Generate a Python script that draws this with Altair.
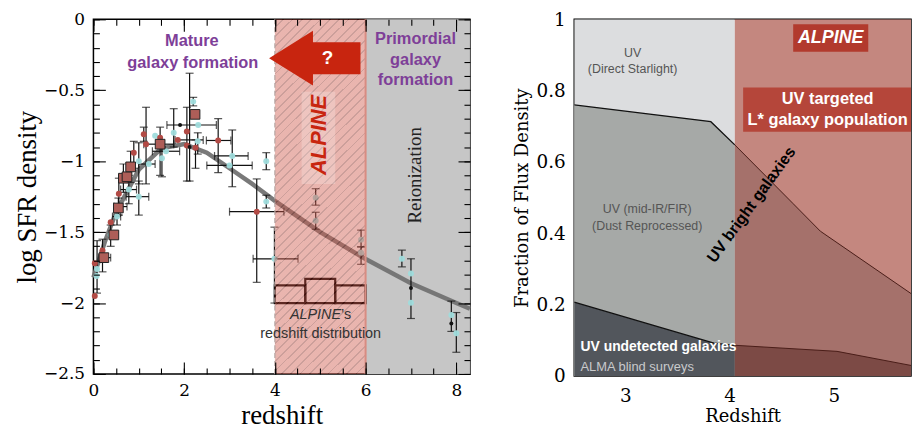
import altair as alt
import pandas as pd

N = None
# ================= LEFT PANEL DATA (log SFR density vs redshift) =================
pt_z = [0.03, 0.08, 0.03, 0.07, 0.20, 0.23, 0.38, 0.38, 0.45, 0.52,
        0.55, 0.56, 0.55, 0.66, 0.74, 0.82, 0.89, 0.78, 1.00, 1.00,
        1.11, 1.16, 1.22, 1.36, 1.47, 1.47, 1.51, 1.60, 1.77, 1.86,
        1.91, 2.06, 2.06, 2.12, 2.25, 2.24, 2.20, 2.31, 2.30, 2.75,
        3.06, 3.00, 3.81, 3.81, 3.60, 3.99, 4.90, 4.90, 5.90, 5.90,
        6.80, 7.00, 7.00, 7.00, 7.89, 7.89, 8.00]
pt_sfr = [-1.95, -1.76, -1.72, -1.81, -1.63, -1.68, -1.52, -1.43, -1.52, -1.39,
          -1.33, -1.23, -1.32, -1.12, -1.11, -1.04, -0.94, -1.20, -1.25, -1.00,
          -0.81, -0.88, -1.02, -0.82, -0.88, -0.835, -0.98, -0.93, -0.80, -0.85,
          -0.745, -0.79, -0.89, -0.90, -0.905, -0.67, -0.58, -0.745, -0.86, -0.854,
          -0.963, -1.03, -1.00, -1.285, -1.356, -1.688, -1.257, -1.42, -1.553, -1.646,
          -1.688, -1.894, -1.792, -1.998, -2.085, -2.144, -2.213]
pt_zlo = [N, N, N, N, N, 0.12, N, N, N, 0.42,
          N, N, 0.45, N, N, N, N, 0.60, 0.72, N,
          N, N, 1.00, N, 1.11, N, N, 1.30, N, 1.80,
          1.62, N, N, N, N, N, N, N, N, 2.49,
          2.67, 2.50, N, N, 3.00, 3.52, N, N, N, N,
          N, N, N, N, N, N, N]
pt_zhi = [N, N, N, N, N, 0.38, N, N, N, 0.60,
          N, N, 0.74, N, N, N, N, 0.95, 1.22, N,
          N, N, 1.36, N, 1.77, N, N, 1.90, N, 2.42,
          2.71, N, N, N, N, N, N, N, N, 3.03,
          3.41, 3.50, N, N, 4.20, 4.51, N, N, N, N,
          N, N, N, N, N, N, N]
pt_ytop = [N, -1.56, N, N, -1.55, N, -1.45, N, N, -1.33,
           N, -1.12, -1.26, -1.02, N, -0.93, -0.86, -1.10, -1.14, -0.87,
           -0.76, -0.62, N, N, -0.76, N, -0.90, N, -0.63, N,
           N, -0.62, N, -0.38, -0.85, N, -0.55, N, -0.80, -0.70,
           -0.78, N, -0.94, -1.24, -1.125, -1.465, -1.194, -1.36, -1.486, -1.604,
           -1.627, -1.688, N, N, -1.986, N, -2.067]
pt_ybot = [N, -1.93, N, N, -1.78, N, -1.60, N, N, -1.45,
           N, -1.38, -1.38, -1.22, N, -1.15, -1.05, -1.30, -1.38, -1.16,
           -0.86, -1.16, N, N, -1.10, N, -1.11, N, -0.90, N,
           N, -1.14, N, -1.14, -1.05, N, -0.61, N, -0.95, -1.08,
           -1.18, N, -1.06, -1.33, -1.854, -2.00, -1.31, -1.48, -1.604, -1.727,
           -1.745, -2.109, N, N, -2.20, N, -2.347]
pt_kind = ['red', 'cyan', 'red', 'cyan', 'red', 'sq', 'cyan', 'red', 'sq', 'cyan',
           'sq', 'red', 'blk', 'sq', 'sq', 'sq', 'red', 'cyan', 'cyan', 'cyan',
           'red', 'red', 'cyan', 'cyan', 'sq', 'red', 'cyan', 'cyan', 'cyan', 'red',
           'blk', 'red', 'red', 'blk', 'red', 'sq', 'cyan', 'cyan', 'cyan', 'red',
           'cyan', 'cyan', 'cyan', 'cyan', 'red', 'cyan', 'cyan', 'cyan', 'cyan', 'cyan',
           'cyan', 'blk', 'cyan', 'cyan', 'cyan', 'blk', 'cyan']

curve_z = [0.0, 0.25, 0.5, 1.0, 1.5, 2.0, 2.5, 3.0, 3.5, 4.0, 5.0, 6.0, 7.0, 8.0, 8.3]
curve_sfr = [-1.82, -1.57, -1.36, -1.06, -0.91, -0.88, -0.94, -1.05, -1.16, -1.28,
             -1.50, -1.69, -1.86, -2.00, -2.04]

hist_lo = [4.0, 4.67, 5.33]
hist_hi = [4.67, 5.33, 6.0]
hist_top = [-1.875, -1.83, -1.875]
hist_base = [-2.0, -2.0, -2.0]

alpine_band = [4.0, 6.0]
reion_band = [6.0, 8.3]

# ================= RIGHT PANEL DATA (fraction of flux density) =================
uv_z = [2.51, 3.82, 4.05, 4.61, 4.87, 5.82]
uv_f = [0.76, 0.713, 0.648, 0.483, 0.406, 0.215]
und_z = [2.51, 3.85, 4.05, 5.03, 5.82]
und_f = [0.207, 0.092, 0.086, 0.069, 0.025]
alpine_zmin = 4.05

# ================= STYLE =================
serif = "DejaVu Serif"
times = "Liberation Serif"
sans = "Liberation Sans"
purple = "#7e3f98"
alpine_red = "#c8250f"

W_L, H_L = 379, 357
W_R, H_R = 339, 359

xs_L = alt.Scale(domain=[0, 8.3], nice=False, zero=False)
ys_L = alt.Scale(domain=[-2.5, 0], nice=False, zero=False)
xs_R = alt.Scale(domain=[2.51, 5.74], nice=False, zero=False)
ys_R = alt.Scale(domain=[0, 1], nice=False, zero=False)


def tick_axis(orient, values, size, **kw):
    d = dict(orient=orient, values=values, tickSize=size, offset=-size, domain=False,
             grid=False, tickColor="black", tickWidth=1.1, zindex=1)
    d.update(kw)
    if not d.get("labels", False):
        d["labels"] = False
        d["title"] = None
        d["minExtent"] = 0
        d["maxExtent"] = 0
    return alt.Axis(**d)


xmaj = [0, 2, 4, 6, 8]
xmin = [i * 0.5 for i in range(17)]
ymaj = [-2.5, -2, -1.5, -1, -0.5, 0]
ymin = [round(-2.5 + 0.1 * i, 1) for i in range(26)]

ax_b_major = tick_axis("bottom", xmaj, 12, labels=True, format="~g", labelFont=serif,
                       labelFontSize=17, labelColor="black", labelPadding=9, labelFlush=False,
                       title="redshift", titleFont=times, titleFontSize=27,
                       titleFontWeight="normal", titleColor="black", titlePadding=4)
ax_l_major = tick_axis("left", ymaj, 12, labels=True, format="~g", labelFont=serif,
                       labelFontSize=17, labelColor="black", labelPadding=9, labelFlush=False,
                       title="log SFR density", titleFont=times, titleFontSize=27,
                       titleFontWeight="normal", titleColor="black", titlePadding=2)
ax_b_minor = tick_axis("bottom", xmin, 6)
ax_l_minor = tick_axis("left", ymin, 6)
ax_t_major = tick_axis("top", xmaj, 12)
ax_r_major = tick_axis("right", ymaj, 12)
ax_t_minor = tick_axis("top", xmin, 6)
ax_r_minor = tick_axis("right", ymin, 6)


def XL(f, axis=None):
    return alt.X(f, type="quantitative", scale=xs_L, axis=axis)


def YL(f, axis=None):
    return alt.Y(f, type="quantitative", scale=ys_L, axis=axis)


df_pts = pd.DataFrame(dict(z=pt_z, sfr=pt_sfr, zlo=pt_zlo, zhi=pt_zhi,
                           ytop=pt_ytop, ybot=pt_ybot, kind=pt_kind))
df_curve = pd.DataFrame(dict(z=curve_z, sfr=curve_sfr))
df_hist = pd.DataFrame(dict(lo=hist_lo, hi=hist_hi, top=hist_top, base=hist_base))
df_reion = pd.DataFrame(dict(x0=[reion_band[0]], x1=[reion_band[1]], y0=[-2.5], y1=[0.0]))
df_alp = pd.DataFrame(dict(x0=[alpine_band[0]], x1=[alpine_band[1]]))

base = alt.Chart(df_pts)

gray = alt.Chart(df_reion).mark_rect(color="#c6c6c6").encode(
    x=XL("x0", ax_b_major), x2="x1", y=YL("y0", ax_l_major), y2="y1")

curve = alt.Chart(df_curve).mark_line(color="#727272", strokeWidth=4.5, opacity=0.95).encode(
    x=XL("z", ax_b_minor), y=YL("sfr", ax_l_minor))

hist = alt.Chart(df_hist).mark_rect(fillOpacity=0, stroke="black", strokeWidth=2.2).encode(
    x=XL("lo"), x2="hi", y=YL("base"), y2="top")

vbars = base.transform_filter("isValid(datum.ytop)").mark_rule(color="#111", strokeWidth=1.2).encode(
    x=XL("z", ax_t_major), y=YL("ytop", ax_r_major), y2="ybot")
hbars = base.transform_filter("isValid(datum.zlo)").mark_rule(color="#111", strokeWidth=1.2).encode(
    x=XL("zlo", ax_t_minor), x2="zhi", y=YL("sfr", ax_r_minor))
vcaps = base.transform_fold(["ytop", "ybot"]).transform_filter("isValid(datum.value)").mark_tick(
    orient="horizontal", size=8, thickness=1.2, color="#111").encode(
    x=XL("z"), y=YL("value"))
hcaps = base.transform_fold(["zlo", "zhi"]).transform_filter("isValid(datum.value)").mark_tick(
    orient="vertical", size=8, thickness=1.2, color="#111").encode(
    x=XL("value"), y=YL("sfr"))

p_cyan = base.transform_filter("datum.kind == 'cyan'").mark_point(
    filled=True, shape="circle", size=36, color="#9fdcdc", opacity=0.95).encode(x=XL("z"), y=YL("sfr"))
p_red = base.transform_filter("datum.kind == 'red'").mark_point(
    filled=True, shape="circle", size=36, color="#b24a45", opacity=1).encode(x=XL("z"), y=YL("sfr"))
p_blk = base.transform_filter("datum.kind == 'blk'").mark_point(
    filled=True, shape="circle", size=16, color="#111", opacity=1).encode(x=XL("z"), y=YL("sfr"))
p_sq = base.transform_filter("datum.kind == 'sq'").mark_point(
    filled=True, shape="square", size=95, fill="#ae5e58", stroke="#222", strokeWidth=1,
    opacity=1).encode(x=XL("z"), y=YL("sfr"))

# hatched ALPINE band (diagonal stripes through a striped linear gradient)
stripe_base, stripe_line, nstripes = "#cf5a4c", "#8e2a20", 48
stops = []
for i in range(nstripes):
    a, b, c = i / nstripes, (i + 0.8) / nstripes, (i + 1) / nstripes
    stops += [{"offset": a, "color": stripe_base}, {"offset": b, "color": stripe_base},
              {"offset": b, "color": stripe_line}, {"offset": c, "color": stripe_line}]
hatch_fill = {"gradient": "linear", "x1": 0, "y1": 0, "x2": 0.3, "y2": 1.18, "stops": stops}
alp = alt.Chart(df_alp).mark_rect(fill=hatch_fill, opacity=0.45).encode(x=XL("x0"), x2="x1")
alp_l = alt.Chart(df_alp).mark_rule(color="#b5a5a2", strokeDash=[5, 3], strokeWidth=1.2).encode(x=XL("x0"))
alp_r = alt.Chart(df_alp).mark_rule(color="#d88c82", strokeWidth=2).encode(x=XL("x1"))

# annotations (positions in data coordinates)
df_mature = pd.DataFrame(dict(x=[2.17, 2.19], y=[-0.15, -0.305], t=["Mature", "galaxy formation"]))
df_prim = pd.DataFrame(dict(x=[7.1, 7.1, 7.1], y=[-0.14, -0.29, -0.43],
                            t=["Primordial", "galaxy", "formation"]))
t_mature = alt.Chart(df_mature).mark_text(font=sans, fontSize=16.5, fontWeight="bold", color=purple).encode(
    x=XL("x"), y=YL("y"), text="t:N")
t_prim = alt.Chart(df_prim).mark_text(font=sans, fontSize=16.5, fontWeight="bold", color=purple).encode(
    x=XL("x"), y=YL("y"), text="t:N")

arrow_path = "M-1,0L-0.04,-0.6L-0.04,-0.35L1,-0.35L1,0.35L-0.04,0.35L-0.04,0.6Z"
df_arrow = pd.DataFrame(dict(x=[4.88], y=[-0.274]))
arrow = alt.Chart(df_arrow).mark_point(shape=arrow_path, filled=True, fill=alpine_red, size=92 * 92,
                                       opacity=1, strokeWidth=0).encode(x=XL("x"), y=YL("y"))
df_q = pd.DataFrame(dict(x=[5.16], y=[-0.27], t=["?"]))
t_q = alt.Chart(df_q).mark_text(font=sans, fontSize=19, fontWeight="bold", color="white").encode(
    x=XL("x"), y=YL("y"), text="t:N")

df_alpbox = pd.DataFrame(dict(x0=[4.59], x1=[5.33], y0=[-0.51], y1=[-1.16]))
alpbox = alt.Chart(df_alpbox).mark_rect(color="white", opacity=0.22).encode(
    x=XL("x0"), x2="x1", y=YL("y0"), y2="y1")
df_alptxt = pd.DataFrame(dict(x=[4.98], y=[-0.815], t=["ALPINE"]))
t_alp = alt.Chart(df_alptxt).mark_text(font=sans, fontSize=22, fontWeight="bold", fontStyle="italic",
                                       color=alpine_red, angle=270).encode(x=XL("x"), y=YL("y"), text="t:N")
df_reitxt = pd.DataFrame(dict(x=[7.08], y=[-1.1], t=["Reionization"]))
t_rei = alt.Chart(df_reitxt).mark_text(font=times, fontSize=19, color="#222", angle=270).encode(
    x=XL("x"), y=YL("y"), text="t:N")

df_h1 = pd.DataFrame(dict(x=[5.46], y=[-2.083], t=["ALPINE"]))
df_h2 = pd.DataFrame(dict(x=[5.46], y=[-2.083], t=["\u2019s"]))
df_h3 = pd.DataFrame(dict(x=[5.01], y=[-2.215], t=["redshift distribution"]))
t_h1 = alt.Chart(df_h1).mark_text(font=sans, fontSize=14.5, fontStyle="italic", color="#333", align="right").encode(
    x=XL("x"), y=YL("y"), text="t:N")
t_h2 = alt.Chart(df_h2).mark_text(font=sans, fontSize=14.5, color="#333", align="left").encode(
    x=XL("x"), y=YL("y"), text="t:N")
t_h3 = alt.Chart(df_h3).mark_text(font=sans, fontSize=14.5, color="#333").encode(
    x=XL("x"), y=YL("y"), text="t:N")

left = alt.layer(
    gray, curve, hist, vbars, hbars, vcaps, hcaps, p_cyan, p_red, p_blk, p_sq,
    alp, alp_l, alp_r, t_mature, t_prim, alpbox, t_alp, arrow, t_q, t_rei, t_h1, t_h2, t_h3
).resolve_axis(x="independent", y="independent").properties(width=W_L, height=H_L)

# ================= RIGHT PANEL =================
def XR(f, axis=None):
    return alt.X(f, type="quantitative", scale=xs_R, axis=axis)


def YR(f, axis=None):
    return alt.Y(f, type="quantitative", scale=ys_R, axis=axis)


ax_xr = alt.Axis(values=[3, 4, 5], format="~g", ticks=False, tickSize=0, domain=False, grid=False,
                 labelFont=serif, labelFontSize=18.5, labelColor="black", labelPadding=11,
                 title="Redshift", titleFont=serif, titleFontSize=18, titleFontWeight="normal",
                 titleColor="black", titlePadding=2)
ax_yr = alt.Axis(values=[0, 0.2, 0.4, 0.6, 0.8, 1], format="~g", ticks=False, tickSize=0, domain=False,
                 grid=False, labelFont=serif, labelFontSize=18.5, labelColor="black", labelPadding=9,
                 title="Fraction of Flux Density", titleFont=serif, titleFontSize=18,
                 titleFontWeight="normal", titleColor="black", titlePadding=5)

df_uv = pd.DataFrame(dict(z=uv_z, f=uv_f))
df_und = pd.DataFrame(dict(z=und_z, f=und_f))
uv_gray = df_uv[df_uv.z <= alpine_zmin]
uv_red = df_uv[df_uv.z >= alpine_zmin]
und_gray = df_und[df_und.z <= alpine_zmin]
und_red = df_und[df_und.z >= alpine_zmin]

df_bg = pd.DataFrame(dict(x0=[uv_z[0], alpine_zmin], x1=[alpine_zmin, uv_z[-1]], y0=[0.0, 0.0],
                          y1=[1.0, 1.0], c=["#dcdddf", "#c4877f"]))
bg = alt.Chart(df_bg).mark_rect(clip=True).encode(
    x=XR("x0", ax_xr), x2="x1", y=YR("y0", ax_yr), y2="y1",
    color=alt.Color("c:N", scale=None))

a_mid_g = alt.Chart(uv_gray).mark_area(color="#a6a9a7", clip=True).encode(x=XR("z"), y=YR("f"))
a_mid_r = alt.Chart(uv_red).mark_area(color="#a5716b", clip=True).encode(x=XR("z"), y=YR("f"))
a_dk_g = alt.Chart(und_gray).mark_area(color="#52565c", clip=True).encode(x=XR("z"), y=YR("f"))
a_dk_r = alt.Chart(und_red).mark_area(color="#7c4a45", clip=True).encode(x=XR("z"), y=YR("f"))
l_mid_g = alt.Chart(uv_gray).mark_line(color="#111", strokeWidth=1.3, clip=True).encode(x=XR("z"), y=YR("f"))
l_mid_r = alt.Chart(uv_red).mark_line(color="#4a1d18", strokeWidth=1, clip=True).encode(x=XR("z"), y=YR("f"))
l_dk_g = alt.Chart(und_gray).mark_line(color="#111", strokeWidth=1.3, clip=True).encode(x=XR("z"), y=YR("f"))
l_dk_r = alt.Chart(und_red).mark_line(color="#4a1d18", strokeWidth=1, clip=True).encode(x=XR("z"), y=YR("f"))

df_boxes = pd.DataFrame(dict(x0=[4.61, 4.13], x1=[5.33, 5.82], y0=[0.986, 0.809], y1=[0.909, 0.685],
                             c=["#b23a2d", "#b5463a"]))
boxes = alt.Chart(df_boxes).mark_rect(clip=True).encode(
    x=XR("x0"), x2="x1", y=YR("y0"), y2="y1", color=alt.Color("c:N", scale=None))

df_gtxt = pd.DataFrame(dict(x=[3.07, 3.07, 3.21, 3.21], y=[0.905, 0.862, 0.467, 0.421],
                            t=["UV", "(Direct Starlight)", "UV (mid-IR/FIR)", "(Dust Reprocessed)"]))
t_gray = alt.Chart(df_gtxt).mark_text(font=sans, fontSize=12.5, color="#555").encode(
    x=XR("x"), y=YR("y"), text="t:N")
df_und_t = pd.DataFrame(dict(x=[2.57], y=[0.081], t=["UV undetected galaxies"]))
t_und = alt.Chart(df_und_t).mark_text(font=sans, fontSize=14, fontWeight="bold", color="white",
                                      align="left").encode(x=XR("x"), y=YR("y"), text="t:N")
df_alma = pd.DataFrame(dict(x=[2.57], y=[0.026], t=["ALMA blind surveys"]))
t_alma = alt.Chart(df_alma).mark_text(font=sans, fontSize=13, color="#c9cacc", align="left").encode(
    x=XR("x"), y=YR("y"), text="t:N")
df_alp_r = pd.DataFrame(dict(x=[4.97], y=[0.948], t=["ALPINE"]))
t_alp_r = alt.Chart(df_alp_r).mark_text(font=sans, fontSize=18, fontWeight="bold", fontStyle="italic",
                                        color="white").encode(x=XR("x"), y=YR("y"), text="t:N")
df_tg = pd.DataFrame(dict(x=[4.94, 4.94], y=[0.776, 0.718], t=["UV targeted", "L* galaxy population"]))
t_tg = alt.Chart(df_tg).mark_text(font=sans, fontSize=16.5, fontWeight="bold", color="white").encode(
    x=XR("x"), y=YR("y"), text="t:N")
df_br = pd.DataFrame(dict(x=[4.21], y=[0.48], t=["UV bright galaxies"]))
t_br = alt.Chart(df_br).mark_text(font=sans, fontSize=16, fontWeight="bold", color="black",
                                  angle=306).encode(x=XR("x"), y=YR("y"), text="t:N")

right = alt.layer(
    bg, a_mid_g, a_mid_r, a_dk_g, a_dk_r, l_mid_g, l_mid_r, l_dk_g, l_dk_r,
    boxes, t_gray, t_und, t_alma, t_alp_r, t_tg, t_br
).resolve_axis(x="independent", y="independent").properties(width=W_R, height=H_R)

chart = alt.hconcat(left, right, spacing=32).configure_view(
    stroke="black", strokeWidth=1.5
).properties(padding={"left": 4, "top": 0, "right": 0, "bottom": 0}, background="white")

chart.save("out.html", embed_options={"renderer": "svg", "actions": False})
